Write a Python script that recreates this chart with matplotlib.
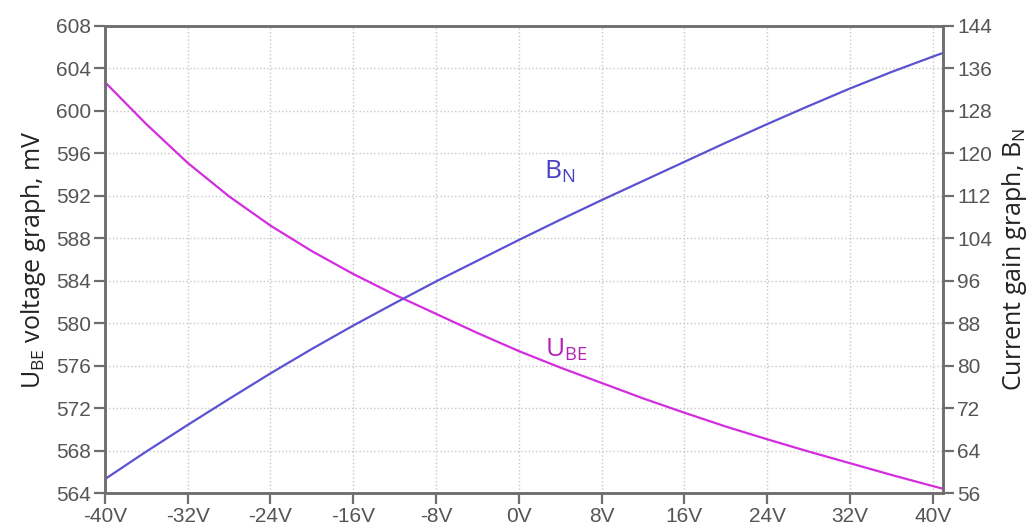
import numpy as np
import matplotlib
matplotlib.use('Agg')
import matplotlib.pyplot as plt
from matplotlib.ticker import MultipleLocator, FuncFormatter

# values
volts = [-40, -36, -32, -28, -24, -20, -16, -12, -8, -4, 0, 4, 8, 12, 16, 20, 24, 28, 32, 36, 40, 41]
u_be = [602.7, 598.75, 595.1, 591.95, 589.2, 586.8, 584.65, 582.7, 580.9, 579.1, 577.4,
        575.85, 574.4, 572.95, 571.6, 570.3, 569.1, 567.95, 566.85, 565.75, 564.7, 564.45]
b_n = [58.7, 63.9, 68.9, 73.8, 78.6, 83.2, 87.6, 91.8, 95.9, 99.8, 103.7,
       107.5, 111.2, 114.8, 118.4, 122.0, 125.5, 128.9, 132.2, 135.3, 138.2, 138.9]

col_u = '#d42ce0'
col_b = '#5b52d2'
grey = '#6e6e6e'
tick_col = '#555555'

plt.rcParams['mathtext.fontset'] = 'custom'
plt.rcParams['mathtext.rm'] = 'Open Sans'
plt.rcParams['mathtext.it'] = 'Open Sans'

fig = plt.figure(figsize=(10.33, 5.30), dpi=100)
ax = fig.add_axes([0.1016, 0.0689, 0.8113, 0.8824])
ax2 = ax.twinx()

ax.plot(volts, u_be, color=col_u, lw=1.6, solid_joinstyle='round')
ax2.plot(volts, b_n, color=col_b, lw=1.6, solid_joinstyle='round')

ax.set_xlim(-40, 41)
ax.set_ylim(564, 608)
ax2.set_ylim(56, 144)
ax.xaxis.set_major_locator(MultipleLocator(8))
ax.yaxis.set_major_locator(MultipleLocator(4))
ax2.yaxis.set_major_locator(MultipleLocator(8))
ax.xaxis.set_major_formatter(FuncFormatter(lambda v, p: '%dV' % v))

ax.grid(True, color='#c8c8c8', linestyle=':', linewidth=1.0)
ax.set_axisbelow(True)

for a in (ax, ax2):
    for s in a.spines.values():
        s.set_color(grey)
        s.set_linewidth(1.8)
    a.tick_params(direction='out', length=8, width=1.6, color=grey,
                  labelcolor=tick_col, labelsize=15, pad=2)
    for lab in a.get_xticklabels() + a.get_yticklabels():
        lab.set_family('Liberation Sans')

ax.set_ylabel(r'$\mathregular{U_{BE}}$ voltage graph, mV', family='Open Sans',
              fontsize=18, color='#222222', labelpad=6)
ax2.set_ylabel(r'Current gain graph, $\mathregular{B_{N}}$', family='Open Sans',
               fontsize=18, color='#222222', labelpad=6)

ax.text(2.4, 594.3, r'$\mathregular{B_{N}}$', color='#4a42c4', fontsize=19,
        family='Open Sans', va='center', ha='left')
ax.text(2.5, 577.5, r'$\mathregular{U_{BE}}$', color='#b424b8', fontsize=19,
        family='Open Sans', va='center', ha='left')

fig.savefig('out.png', dpi=100)
